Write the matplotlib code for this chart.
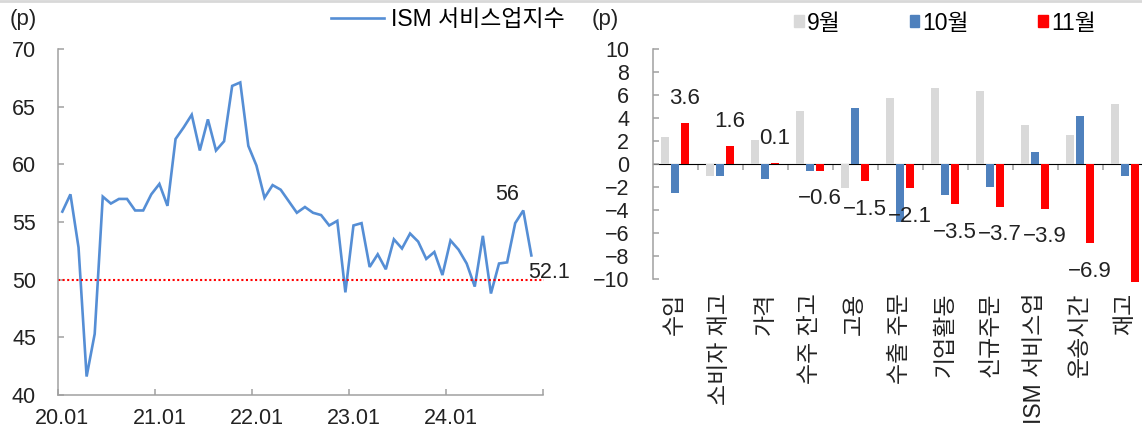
import numpy as np
import matplotlib
matplotlib.use("Agg")
import matplotlib.pyplot as plt
from matplotlib.lines import Line2D
from matplotlib.patches import Patch

plt.rcParams['font.family'] = ['Liberation Sans', 'Noto Sans CJK KR']
plt.rcParams['font.size'] = 15
plt.rcParams['axes.unicode_minus'] = True

# ISM services index, monthly 2020.01 - 2024.11
ism = [55.9, 57.4, 52.8, 41.6, 45.3, 57.2, 56.6, 57.0, 57.0, 56.0, 56.0, 57.4,
       58.3, 56.4, 62.2, 63.2, 64.3, 61.2, 63.9, 61.2, 62.0, 66.8, 67.1, 61.6,
       59.9, 57.1, 58.2, 57.8, 56.8, 55.8, 56.3, 55.8, 55.6, 54.7, 55.1, 48.9,
       54.7, 54.9, 51.1, 52.2, 50.9, 53.5, 52.7, 54.0, 53.3, 51.8, 52.4, 50.4,
       53.4, 52.6, 51.4, 49.4, 53.8, 48.8, 51.4, 51.5, 54.9, 56.0, 52.1]
n_slots = 60
year_labels = ['20.01', '21.01', '22.01', '23.01', '24.01']

# month-over-month change of sub-indices
categories = ['수입', '소비자 재고', '가격', '수주 잔고', '고용', '수출 주문',
              '기업활동', '신규주문', 'ISM 서비스업', '운송시간', '재고']
chg_sep = [2.4, -1.0, 2.1, 4.6, -2.1, 5.8, 6.6, 6.4, 3.4, 2.5, 5.2]
chg_oct = [-2.5, -1.0, -1.3, -0.6, 4.9, -5.0, -2.7, -2.0, 1.1, 4.2, -1.0]
chg_nov = [3.6, 1.6, 0.1, -0.6, -1.5, -2.1, -3.5, -3.7, -3.9, -6.9, -10.3]
series_names = ['9월', '10월', '11월']

W, H = 1142, 434
fig = plt.figure(figsize=(W / 100, H / 100), dpi=100)
spine_c = '#A0A0A0'
text_c = '#222222'

def fx(px):
    return px / W

def fy(py):
    return 1 - py / H

# ---------------- left: ISM services line ----------------
ax1 = fig.add_axes([fx(58.3), fy(395), fx(543.5 - 58.3), (395 - 49) / H])
x = np.arange(len(ism)) + 0.5
ax1.plot(x, ism, color='#558ED5', lw=1.9, solid_joinstyle='miter')
ax1.axhline(50, color='#FF0000', ls=(0, (1, 1.2)), lw=1.5)
ax1.set_xlim(0, n_slots)
ax1.set_ylim(40, 70)
ax1.set_yticks(range(40, 71, 5))
ax1.set_xticks([0.5 + 12 * k for k in range(len(year_labels))])
ax1.set_xticklabels(year_labels)
ax1.set_xticks(range(0, n_slots + 1, 12), minor=True)
ax1.tick_params(axis='x', which='major', length=0, pad=9, labelsize=15.5, colors=text_c)
ax1.tick_params(axis='x', which='minor', direction='in', length=4, width=1.1, color=spine_c)
ax1.tick_params(axis='y', direction='in', length=4, width=1.1, color=spine_c,
                pad=16, labelsize=15.5, labelcolor=text_c)
for s in ('top', 'right'):
    ax1.spines[s].set_visible(False)
for s in ('left', 'bottom'):
    ax1.spines[s].set_color(spine_c)
    ax1.spines[s].set_linewidth(1.1)

ax1.annotate(f'{ism[57]:g}', (x[57], ism[57]), xytext=(-11.5, 11.5),
             textcoords='offset points', ha='center', va='center',
             fontsize=15.5, color=text_c)
ax1.annotate(f'{ism[58]:g}', (x[58], ism[58]), xytext=(12.5, -12.5),
             textcoords='offset points', ha='center', va='center',
             fontsize=15.5, color=text_c, annotation_clip=False)

fig.text(fx(10), fy(19), '(p)', ha='left', va='center', fontsize=16, color=text_c)
fig.legend([Line2D([], [], color='#558ED5', lw=1.9)], ['ISM 서비스업지수'],
           loc='center left', bbox_to_anchor=(fx(331), fy(20)), frameon=False,
           borderpad=0, borderaxespad=0, handlelength=2.3, handletextpad=0.3,
           fontsize=16.5)

# ---------------- right: sub-index changes ----------------
ax2 = fig.add_axes([fx(652.7), fy(279), fx(495), (279 - 49.3) / H])
xc = np.arange(len(categories)) + 0.49
bw = 0.18
colors = ['#D9D9D9', '#4F81BD', '#FF0000']
for off, vals, c in zip((-0.225, 0.0, 0.225), (chg_sep, chg_oct, chg_nov), colors):
    ax2.bar(xc + off, vals, bw, color=c, clip_on=False, zorder=2)

ax2.set_xlim(0, len(categories))
ax2.set_ylim(-10, 10)
ax2.set_yticks(range(-10, 11, 2))
ax2.set_xticks(xc)
ax2.set_xticklabels(categories, rotation=90)
ax2.tick_params(axis='x', length=0, pad=10, labelsize=16.5, colors=text_c)
ax2.tick_params(axis='y', direction='in', length=4, width=1.1, color=spine_c,
                pad=17, labelsize=15.5, labelcolor=text_c)
for s in ('top', 'right', 'bottom'):
    ax2.spines[s].set_visible(False)
ax2.spines['left'].set_color(spine_c)
ax2.spines['left'].set_linewidth(1.1)

# zero line with category-boundary ticks
zero = ax2.secondary_xaxis(0.5)
zero.set_xticks(range(1, len(categories)))
zero.set_xticklabels([])
zero.tick_params(direction='in', length=4, width=1.1, color=spine_c)
zero.spines['bottom'].set_color(spine_c)
zero.spines['bottom'].set_linewidth(1.1)

for xi, v in zip(xc[:-1] + 0.225, chg_nov[:-1]):
    yl = v + 2.15 if v >= 0 else v - 2.42
    ax2.text(xi, yl, f'{v:.1f}'.replace('-', '\u2212'), ha='center', va='center',
             fontsize=16, color=text_c, zorder=3)

fig.text(fx(592), fy(19), '(p)', ha='left', va='center', fontsize=16, color=text_c)
fig.legend([Patch(color=c) for c in colors], series_names, ncol=3,
           loc='center left', bbox_to_anchor=(fx(794), fy(23)), frameon=False,
           borderpad=0, borderaxespad=0, handlelength=0.42, handleheight=0.42,
           handletextpad=0.15, columnspacing=3.0, fontsize=16.5)

# light rule along the top edge
fig.add_artist(Line2D([0, 1], [1 - 1 / H, 1 - 1 / H], transform=fig.transFigure,
                      color='#D8D8D8', lw=2))

fig.savefig('out.png', dpi=100, facecolor='white')
